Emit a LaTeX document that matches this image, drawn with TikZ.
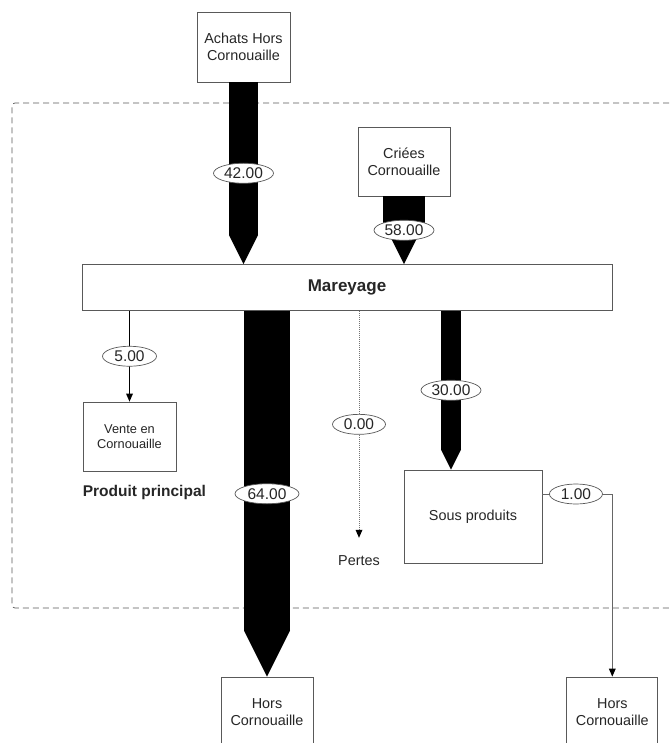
\documentclass[tikz,border=0pt]{standalone}
\usepackage{fontspec}
\setmainfont{Liberation Sans}
\usetikzlibrary{positioning, shapes.geometric, arrows.meta}

\begin{document}
\begin{tikzpicture}[
		x=1pt, y=-1pt,
		font=\fontsize{14.4}{17}\selectfont,
		box/.style={rectangle, draw=black!65, line width=0.8pt, fill=white, text=black!85, align=center, inner sep=0pt, minimum width=92pt, minimum height=70pt},
		lbl/.style={ellipse, solid, draw=black!65, line width=0.7pt, fill=white, text=black!85, font=\fontsize{15.5}{17}\selectfont, inner xsep=1pt, inner ysep=0pt, minimum width=60pt, minimum height=20pt},
		flow/.style={line width=#1pt, -{Triangle[length=#1pt, width=#1pt, line width=0pt]}},
		fine/.style={line width=1.3pt, -{Triangle[length=8pt, width=7pt, line width=0pt]}},
		lost/.style={densely dotted, draw=black!55, line width=1pt, -{Triangle[length=8pt, width=7pt, line width=0pt, color=black]}},
		link/.style={draw=black!60, line width=0.8pt, -{Triangle[length=8pt, width=7pt, line width=0pt, color=black]}},
		zone/.style={dash pattern=on 6pt off 4pt, draw=black!65, line width=0.7pt, rounded corners=3pt}
		]
		
		\fill [white] (0,0) rectangle (669,743);
		\useasboundingbox (0,0) rectangle (669,743);
		
		% Dashed frame
		\draw [zone] (669,103) -- (12,103) -- (12,608) -- (669,608);
		
		% Nodes
		\node (achats) [box, minimum width=93pt] at (243.5,47) {Achats Hors\\Cornouaille};
		\node (criees) [box, minimum height=69pt] at (404,161.5) {Criées\\Cornouaille};
		\node (mar) [box, minimum width=530pt, minimum height=46pt, font=\fontsize{17}{19}\selectfont\bfseries] at (347,287.5) {Mareyage};
		\node (vente) [box, minimum width=93pt, minimum height=69pt, font=\fontsize{12.8}{15}\selectfont] at (129.5,436.5) {Vente en\\Cornouaille};
		\node (prod) [anchor=west, inner sep=0pt, text=black!85, font=\fontsize{15.5}{18}\selectfont\bfseries] at ([yshift=-21pt]vente.south west) {Produit principal};
		\node (sous) [box, minimum width=138pt, minimum height=93pt] at (473,516.5) {Sous produits};
		\node (pertes) [inner sep=0pt, text=black!85] at (359,561) {Pertes};
		\node (horsA) [box] at (267,712) {Hors\\Cornouaille};
		\node (horsB) [box, minimum width=91pt, right=253pt of horsA] {Hors\\Cornouaille};
		
		\coordinate (sousin) at ([xshift=-22pt]sous.north);
		\coordinate (sousout) at ([yshift=22.5pt]sous.east);
		
		% Arrows
		\draw [flow=29] (achats.south) -- (achats.south |- mar.north) node [lbl, midway] {42.00};
		\draw [flow=42] (criees.south) -- (criees.south |- mar.north) node [lbl, midway] {58.00};
		\draw [fine] (vente.north |- mar.south) -- (vente.north) node [lbl, midway, minimum width=54pt] {5.00};
		\draw [flow=46] (horsA.north |- mar.south) -- (horsA.north) node [lbl, midway, minimum width=64pt] {64.00};
		\draw [lost] (pertes |- mar.south) -- ([yshift=18pt]pertes.north) node [lbl, midway, minimum width=53pt] {0.00};
		\draw [flow=20] (sousin |- mar.south) -- (sousin) node [lbl, midway] {30.00};
		\draw [link] (sousout) -| (horsB.north) node [lbl, pos=0.24, minimum width=53pt] {1.00};
		
	\end{tikzpicture}
\end{document}
